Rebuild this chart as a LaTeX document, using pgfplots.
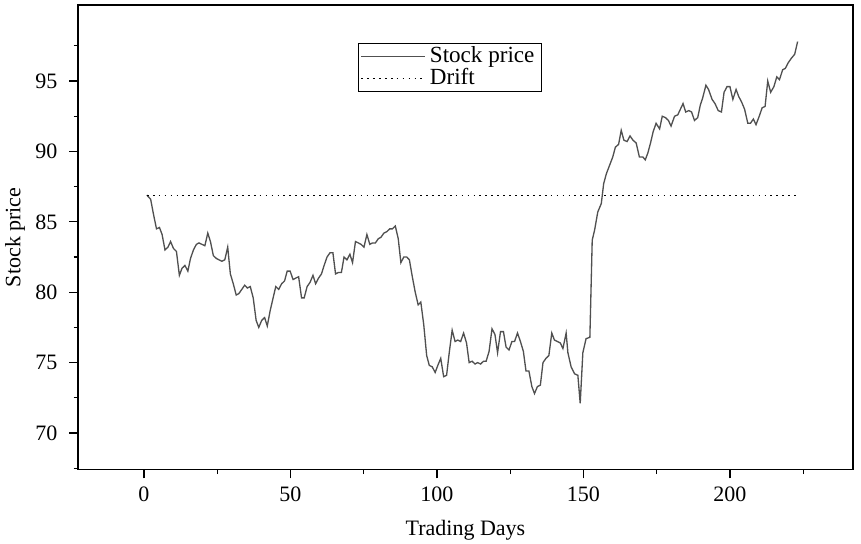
\documentclass[border=0pt]{standalone}
\usepackage{fontspec}
\setmainfont{Liberation Serif}
\usepackage{pgfplots}
\pgfplotsset{compat=1.18}
\definecolor{linegray}{HTML}{505050}

\begin{document}
\begin{tikzpicture}
\begin{axis}[
  width=352.3pt, height=211.2pt, scale only axis,
  xmin=-22.5, xmax=242, ymin=67.4, ymax=100.4,
  xtick={0,50,...,200}, minor xtick={25,75,...,225},
  ytick={70,75,...,95}, minor ytick={67.5,72.5,...,97.5},
  tick align=outside, tick pos=left,
  major tick length=4pt, minor tick length=2pt,
  axis line style={line width=0.7pt},
  every tick/.style={black, line width=0.6pt},
  /pgf/number format/assume math mode=true,
  tick label style={font=\fontsize{10}{12}\selectfont},
  xticklabel style={yshift=-0.4pt},
  yticklabel style={xshift=-1.8pt},
  xlabel={Trading Days}, ylabel={Stock price},
  label style={font=\fontsize{10}{12}\selectfont},
  xlabel style={at={(axis description cs:0.5,-0.130)}, anchor=center},
  ylabel style={at={(axis description cs:-0.0813,0.5)}, anchor=center},
  legend style={at={(0.361,0.918)}, anchor=north west, draw=black, line width=0.4pt,
    font=\fontsize{10.5}{12}\selectfont, inner xsep=1pt, inner ysep=0.9pt, row sep=0pt,
    nodes={inner xsep=2pt, inner ysep=0.5pt, text height=7pt, text depth=2pt},
    cells={anchor=west}},
  legend image code/.code={\draw[#1] (0pt,0pt) -- (29pt,0pt);},
]
% stock price
\addplot[linegray, line width=0.6pt] coordinates {
(1.0,86.9) (2.3,86.6) (3.3,85.5) (4.3,84.5) (5.3,84.6) (6.2,84.1) (7.2,83.0) (8.2,83.2)
(9.1,83.6) (10.1,83.1) (11.1,82.9) (12.1,81.2) (13.0,81.7) (14.0,81.9) (15.0,81.5) (15.9,82.4)
(16.9,83.0) (17.9,83.4) (18.8,83.5) (19.8,83.4) (20.8,83.3) (21.8,84.2) (22.7,83.6) (23.7,82.6)
(24.7,82.4) (25.6,82.3) (26.6,82.2) (27.6,82.3) (28.6,83.2) (29.5,81.3) (30.5,80.6) (31.5,79.8)
(32.4,79.9) (33.4,80.2) (34.4,80.5) (35.3,80.3) (36.3,80.4) (37.3,79.6) (38.3,78.0) (39.2,77.5)
(40.2,78.0) (41.2,78.2) (42.1,77.6) (43.1,78.7) (44.1,79.6) (45.0,80.4) (46.0,80.2) (47.0,80.6)
(48.0,80.8) (48.9,81.5) (49.9,81.5) (50.9,80.9) (51.8,81.0) (52.8,81.1) (53.8,79.6) (54.7,79.6)
(55.7,80.4) (56.7,80.7) (57.7,81.2) (58.6,80.6) (59.6,81.0) (60.6,81.3) (61.5,81.9) (62.5,82.5)
(63.5,82.8) (64.5,82.8) (65.4,81.3) (66.4,81.4) (67.4,81.4) (68.3,82.5) (69.3,82.3) (70.3,82.7)
(71.2,82.1) (72.2,83.6) (73.2,83.5) (74.1,83.4) (75.1,83.2) (76.1,84.1) (77.1,83.4) (78.0,83.5)
(79.0,83.5) (80.0,83.8) (80.9,83.9) (81.9,84.2) (82.9,84.3) (83.9,84.5) (84.8,84.5) (85.8,84.7)
(86.8,83.8) (87.7,82.1) (88.7,82.5) (89.7,82.5) (90.6,82.3) (91.6,81.1) (92.6,80.0) (93.6,79.1)
(94.5,79.3) (95.5,77.7) (96.5,75.5) (97.4,74.8) (98.4,74.7) (99.4,74.3) (100.3,74.8) (101.3,75.3)
(102.3,74.0) (103.3,74.1) (104.2,75.7) (105.2,77.3) (106.2,76.5) (107.1,76.6) (108.1,76.5) (109.1,77.1)
(110.1,76.4) (111.0,75.0) (112.0,75.1) (113.0,74.9) (113.9,75.0) (114.9,74.9) (115.9,75.1) (116.8,75.1)
(117.8,75.8) (118.8,77.4) (119.8,77.0) (120.7,75.7) (121.7,77.2) (122.7,77.2) (123.6,76.1) (124.6,75.9)
(125.6,76.5) (126.5,76.5) (127.5,77.1) (128.5,76.5) (129.5,75.8) (130.4,74.4) (131.4,74.4) (132.4,73.3)
(133.3,72.8) (134.3,73.3) (135.3,73.4) (136.2,75.0) (137.2,75.3) (138.2,75.5) (139.2,77.1) (140.1,76.6)
(141.1,76.5) (142.1,76.4) (143.0,76.0) (144.1,77.1) (144.7,75.7) (145.8,74.7) (147.0,74.2) (148.1,74.1)
(148.9,72.1) (149.8,75.7) (150.9,76.7) (152.2,76.8) (153.0,83.7) (153.8,84.4) (154.9,85.7) (156.1,86.3)
(156.9,87.7) (157.8,88.4) (158.9,89.0) (160.0,89.6) (160.9,90.3) (162.0,90.5) (162.9,91.5) (163.8,90.8)
(164.9,90.7) (165.9,91.1) (166.9,90.8) (168.0,90.6) (169.1,89.6) (170.3,89.6) (171.1,89.4) (172.0,89.9)
(172.9,90.6) (173.8,91.4) (174.8,92.0) (176.0,91.6) (176.9,92.5) (178.0,92.4) (179.0,92.2) (179.9,91.8)
(181.1,92.5) (182.2,92.6) (183.1,93.0) (184.0,93.4) (184.9,92.8) (186.0,92.9) (186.9,92.8) (187.9,92.2)
(189.0,92.4) (189.9,93.3) (190.7,93.8) (191.8,94.7) (192.7,94.4) (193.9,93.7) (194.9,93.4) (196.0,92.9)
(197.1,92.8) (198.0,94.2) (199.0,94.6) (200.0,94.6) (201.0,93.7) (202.1,94.4) (203.0,93.9) (204.0,93.5)
(205.0,93.0) (206.1,92.0) (207.0,92.0) (208.0,92.3) (208.9,91.9) (210.0,92.5) (211.0,93.1) (212.0,93.2)
(212.9,95.0) (213.9,94.2) (215.0,94.6) (216.0,95.3) (216.9,95.1) (218.0,95.8) (218.9,95.9) (219.9,96.3)
(220.9,96.6) (222.1,96.9) (223.1,97.8)
};
\addlegendentry{Stock price}
% drift
\addplot[black, line width=0.5pt, dash pattern=on 0.8pt off 1.9pt] coordinates {(1,86.9) (223,86.9)};
\addlegendentry{Drift}
\end{axis}
\pgfresetboundingbox
\path[use as bounding box] ([xshift=-35.45pt,yshift=-33.8pt]current axis.south west)
  rectangle ([xshift=3.64pt,yshift=2.27pt]current axis.north east);
\end{tikzpicture}
\end{document}
